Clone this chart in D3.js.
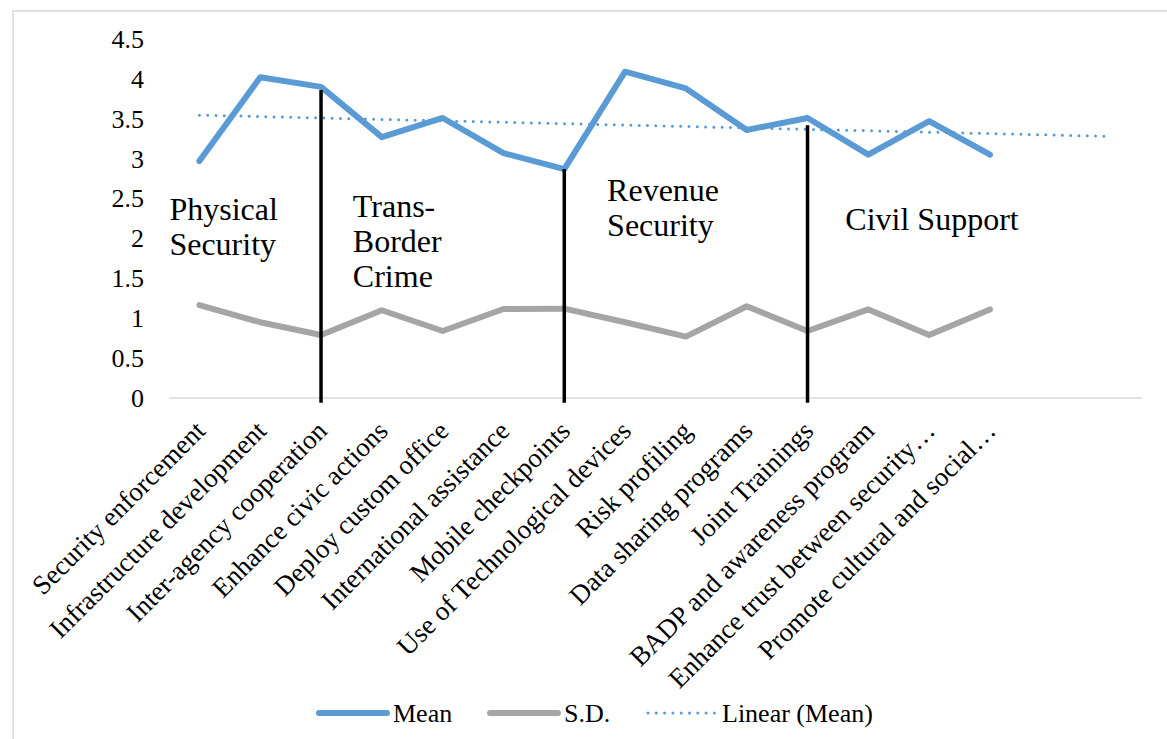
<!DOCTYPE html>
<html>
<head>
<meta charset="utf-8">
<script src="https://cdn.jsdelivr.net/npm/d3@7"></script>
<style>
  body { margin: 0; background: #fff; }
</style>
</head>
<body>
<svg id="chart" width="1167" height="739" font-family="'Liberation Serif', 'Times New Roman', 'DejaVu Serif', serif"></svg>
<script>
// categories (two empty slots at the end, like the original sheet)
var categories = ["Security enforcement", "Infrastructure development", "Inter-agency cooperation",
  "Enhance civic actions", "Deploy custom office", "International assistance", "Mobile checkpoints",
  "Use of Technological devices", "Risk profiling", "Data sharing programs", "Joint Trainings",
  "BADP and awareness program", "Enhance trust between security\u2026", "Promote cultural and social\u2026", "", ""];
var meanValues = [2.97, 4.02, 3.90, 3.27, 3.51, 3.07, 2.87, 4.09, 3.88, 3.36, 3.51, 3.05, 3.47, 3.05];
var sdValues   = [1.165, 0.95, 0.79, 1.10, 0.84, 1.115, 1.12, 0.95, 0.77, 1.15, 0.84, 1.11, 0.79, 1.11];
var yTicks = [0, 0.5, 1, 1.5, 2, 2.5, 3, 3.5, 4, 4.5];

// group dividers: category index, top value
var dividers = [{i: 2, top: 3.86}, {i: 6, top: 2.87}, {i: 10, top: 3.42}];
// group captions: first category, x offset, baseline value
var groups = [
  {lines: ["Physical", "Security"], at: 0, dx: -30, y: 2.23},
  {lines: ["Trans-", "Border", "Crime"], at: 3, dx: -29, y: 2.27},
  {lines: ["Revenue", "Security"], at: 7, dx: -18, y: 2.47},
  {lines: ["Civil Support"], at: 11, dx: -23, y: 2.11}
];

var svg = d3.select("#chart");

// chart border
svg.append("rect").attr("x", 13).attr("y", 11).attr("width", 1180).attr("height", 760)
  .attr("fill", "none").attr("stroke", "#d9d9d9").attr("stroke-width", 1.5);

var x = d3.scaleBand().domain(d3.range(categories.length)).range([169, 1142]);
var y = d3.scaleLinear().domain([0, 4.5]).range([398, 39]);
function cx(i) { return x(i) + x.bandwidth() / 2; }

// y axis labels
svg.append("g").selectAll("text").data(yTicks).join("text")
  .attr("x", 144).attr("y", function(d) { return y(d); })
  .attr("dy", "0.34em").attr("text-anchor", "end")
  .style("font-size", "26px")
  .text(function(d) { return d; });

// x axis line
svg.append("line").attr("x1", 169).attr("x2", 1142).attr("y1", y(0)).attr("y2", y(0))
  .attr("stroke", "#d9d9d9").attr("stroke-width", 1.5);

// x labels
svg.append("g").selectAll("text").data(categories).join("text")
  .attr("transform", function(d, i) { return "translate(" + (cx(i) + 1) + "," + 426 + ") rotate(-45)"; })
  .attr("text-anchor", "end").attr("dy", "0.34em")
  .style("font-size", "27px")
  .text(function(d) { return d; });

// linear trend of mean
var n = meanValues.length;
var xs = d3.range(1, n + 1);
var mx = d3.mean(xs), my = d3.mean(meanValues);
var slope = d3.sum(xs, function(v, k) { return (v - mx) * (meanValues[k] - my); }) /
            d3.sum(xs, function(v) { return (v - mx) * (v - mx); });
var icpt = my - slope * mx;
var trend = [0, categories.length - 1].map(function(i) { return [i, icpt + slope * (i + 1)]; });

var line = d3.line().x(function(d) { return cx(d[0]); }).y(function(d) { return y(d[1]); });

svg.append("path").datum(sdValues.map(function(v, i) { return [i, v]; }))
  .attr("d", line).attr("fill", "none").attr("stroke", "#a5a5a5")
  .attr("stroke-width", 6).attr("stroke-linejoin", "round").attr("stroke-linecap", "round");

svg.append("path").datum(trend)
  .attr("d", line).attr("fill", "none").attr("stroke", "#5b9bd5")
  .attr("stroke-width", 3).attr("stroke-dasharray", "0 8.3").attr("stroke-linecap", "round");

svg.append("path").datum(meanValues.map(function(v, i) { return [i, v]; }))
  .attr("d", line).attr("fill", "none").attr("stroke", "#5b9bd5")
  .attr("stroke-width", 6).attr("stroke-linejoin", "round").attr("stroke-linecap", "round");

// dividers
svg.append("g").selectAll("line").data(dividers).join("line")
  .attr("x1", function(d) { return cx(d.i); }).attr("x2", function(d) { return cx(d.i); })
  .attr("y1", function(d) { return y(d.top); }).attr("y2", y(-0.06))
  .attr("stroke", "#000").attr("stroke-width", 3.5);

// group captions
var gl = svg.append("g").selectAll("text").data(groups).join("text")
  .attr("x", function(d) { return cx(d.at) + d.dx; })
  .attr("y", function(d) { return y(d.y); })
  .style("font-size", "32px");
gl.selectAll("tspan").data(function(d) { return d.lines.map(function(t) { return {t: t, x: cx(d.at) + d.dx}; }); })
  .join("tspan")
  .attr("x", function(d) { return d.x; })
  .attr("dy", function(d, k) { return k === 0 ? 0 : 35; })
  .text(function(d) { return d.t; });

// legend
var legend = [
  {name: "Mean", color: "#5b9bd5", w: 6, dash: null, x: 319, len: 68},
  {name: "S.D.", color: "#a5a5a5", w: 6, dash: null, x: 490, len: 68},
  {name: "Linear (Mean)", color: "#5b9bd5", w: 3, dash: "0 8.3", x: 648, len: 68}
];
var lg = svg.append("g").selectAll("g").data(legend).join("g");
lg.append("line")
  .attr("x1", function(d) { return d.x; }).attr("x2", function(d) { return d.x + d.len; })
  .attr("y1", 713).attr("y2", 713)
  .attr("stroke", function(d) { return d.color; })
  .attr("stroke-width", function(d) { return d.w; })
  .attr("stroke-dasharray", function(d) { return d.dash; })
  .attr("stroke-linecap", "round");
lg.append("text")
  .attr("x", function(d) { return d.x + d.len + 6; }).attr("y", 713).attr("dy", "0.34em")
  .style("font-size", "26px")
  .text(function(d) { return d.name; });
</script>
</body>
</html>
